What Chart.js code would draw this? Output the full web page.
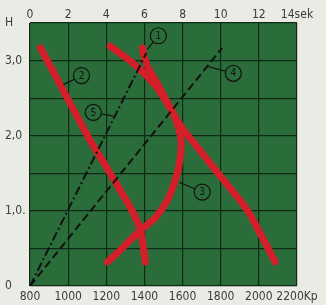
<!DOCTYPE html>
<html lang="de">
<head>
  <meta charset="UTF-8">
  <title>H-Kp-Diagramm</title>
  <script src="https://cdn.jsdelivr.net/npm/chart.js"></script>
  <style>
    body {
      margin: 0;
      background: #ebebe6;
    }
    #wrap {
      width: 326px;
      height: 305px;
    }
  </style>
</head>
<body>
  <div id="wrap"><canvas id="chart"></canvas></div>

  <script>
    // Achsen
    const kpTicks = [800, 1000, 1200, 1400, 1600, 1800, 2000, 2200];
    const secTicks = [0, 2, 4, 6, 8, 10, 12, 14];
    const hLabels = { 0: '0', 1: '1,0.', 2: '2,0', 3: '3,0', 3.5: 'H' };

    // Kurve 2 (rot, links)
    const c2Kp = [855, 975, 1115, 1180, 1274, 1342, 1379, 1394, 1405];
    const c2H  = [3.17, 2.60, 1.94, 1.67, 1.27, 0.97, 0.74, 0.52, 0.32];

    // lange rote Kurve (oben links nach unten rechts)
    const cbKp = [1221, 1342, 1447, 1520, 1588, 1677, 1761, 1850, 1939, 2007, 2059, 2085];
    const cbH  = [3.19, 2.96, 2.70, 2.43, 2.14, 1.85, 1.58, 1.30, 1.01, 0.70, 0.45, 0.32];

    // Kurve 3 (Bogen)
    const c3Kp = [1206, 1274, 1379, 1457, 1520, 1562, 1583, 1593, 1588, 1562, 1509, 1457, 1420, 1400, 1389];
    const c3H  = [0.32, 0.48, 0.74, 0.91, 1.14, 1.41, 1.63, 1.85, 2.01, 2.23, 2.50, 2.74, 2.90, 3.04, 3.17];

    // Geraden 1/5 (strichpunktiert) und 4 (gestrichelt)
    const l1Kp = [800, 1410];
    const l1H  = [0, 3.10];
    const l4Kp = [800, 1808];
    const l4H  = [0, 3.17];

    // Kreismarken
    const markNames = ['1', '2', '3', '4', '5'];
    const markAt = [[1473, 3.33], [1070, 2.80], [1703, 1.25], [1866, 2.83], [1132, 2.31]];
    const markTo = [[1415, 3.15], [975, 2.68], [1583, 1.38], [1735, 2.92], [1237, 2.26]];

    const RED = '#d41f2b';
    const FONT = "'Liberation Sans Narrow', 'DejaVu Sans Condensed', sans-serif";

    function pts(xs, ys) {
      return xs.map((x, i) => ({ x: x, y: ys[i] }));
    }

    function redCurve(xs, ys) {
      return {
        data: pts(xs, ys),
        borderColor: RED,
        borderWidth: 7,
        borderCapStyle: 'round',
        borderJoinStyle: 'round',
        tension: 0.4,
        pointRadius: 0,
        fill: false
      };
    }

    // gruener Hintergrund
    const bgPlugin = {
      id: 'bg',
      beforeDraw(chart) {
        const a = chart.chartArea;
        const ctx = chart.ctx;
        ctx.save();
        ctx.fillStyle = '#2b6d3a';
        ctx.fillRect(a.left, a.top, a.right - a.left, a.bottom - a.top);
        ctx.restore();
      }
    };

    // Kreise mit Nummern
    const markPlugin = {
      id: 'marks',
      afterDatasetsDraw(chart) {
        const ctx = chart.ctx;
        const xs = chart.scales.x;
        const ys = chart.scales.y;
        const r = 8;
        ctx.save();
        ctx.strokeStyle = '#111';
        ctx.fillStyle = '#111';
        ctx.lineWidth = 1.2;
        ctx.font = '10px ' + FONT;
        ctx.textAlign = 'center';
        ctx.textBaseline = 'middle';
        markNames.forEach((n, i) => {
          const cx = xs.getPixelForValue(markAt[i][0]);
          const cy = ys.getPixelForValue(markAt[i][1]);
          const tx = xs.getPixelForValue(markTo[i][0]);
          const ty = ys.getPixelForValue(markTo[i][1]);
          const d = Math.hypot(tx - cx, ty - cy);
          ctx.beginPath();
          ctx.arc(cx, cy, r, 0, Math.PI * 2);
          ctx.stroke();
          ctx.beginPath();
          ctx.moveTo(cx + (tx - cx) * r / d, cy + (ty - cy) * r / d);
          ctx.lineTo(tx, ty);
          ctx.stroke();
          ctx.fillText(n, cx, cy + 0.5);
        });
        ctx.restore();
      }
    };

    const ctx = document.getElementById('chart').getContext('2d');
    new Chart(ctx, {
      type: 'line',
      data: {
        datasets: [
          {
            data: pts(l1Kp, l1H),
            borderColor: '#111',
            borderWidth: 2,
            borderDash: [9, 3, 2, 3],
            pointRadius: 0,
            fill: false
          },
          {
            data: pts(l4Kp, l4H),
            borderColor: '#111',
            borderWidth: 2,
            borderDash: [8, 4],
            pointRadius: 0,
            fill: false
          },
          redCurve(c2Kp, c2H),
          redCurve(c3Kp, c3H),
          redCurve(cbKp, cbH)
        ]
      },
      options: {
        responsive: true,
        maintainAspectRatio: false,
        animation: false,
        layout: { padding: { left: 5, right: 29, top: 0, bottom: 0 } },
        plugins: {
          legend: { display: false },
          tooltip: { enabled: false }
        },
        scales: {
          x: {
            type: 'linear',
            position: 'bottom',
            min: 800,
            max: 2200,
            afterFit(s) { s.height = 19; },
            afterBuildTicks(s) { s.ticks = kpTicks.map(v => ({ value: v })); },
            ticks: {
              padding: 4,
              color: '#3a3a3a',
              font: { family: FONT, size: 12 },
              maxRotation: 0,
              autoSkip: false,
              callback: v => v === 2200 ? '2200Kp' : String(v)
            },
            grid: { color: '#0e2a16', lineWidth: 1.2, drawTicks: false },
            border: { display: false }
          },
          x2: {
            type: 'linear',
            position: 'top',
            min: 0,
            max: 14,
            afterFit(s) { s.height = 23; },
            afterBuildTicks(s) { s.ticks = secTicks.map(v => ({ value: v })); },
            ticks: {
              padding: 1,
              color: '#3a3a3a',
              font: { family: FONT, size: 12 },
              maxRotation: 0,
              autoSkip: false,
              callback: v => v === 14 ? '14sek' : String(v)
            },
            grid: { display: false, drawTicks: false },
            border: { display: false }
          },
          y: {
            type: 'linear',
            min: 0,
            max: 3.5,
            afterFit(s) { s.width = 25; },
            afterBuildTicks(s) {
              const t = [];
              for (let v = 0; v <= 3.5; v += 0.5) t.push({ value: v });
              s.ticks = t;
            },
            ticks: {
              crossAlign: 'far',
              padding: 4,
              color: '#3a3a3a',
              font: { family: FONT, size: 12 },
              autoSkip: false,
              callback: v => hLabels[v] !== undefined ? hLabels[v] : ''
            },
            grid: { color: '#0e2a16', lineWidth: 1.2, drawTicks: false },
            border: { display: false }
          }
        }
      },
      plugins: [bgPlugin, markPlugin]
    });
  </script>
</body>
</html>
